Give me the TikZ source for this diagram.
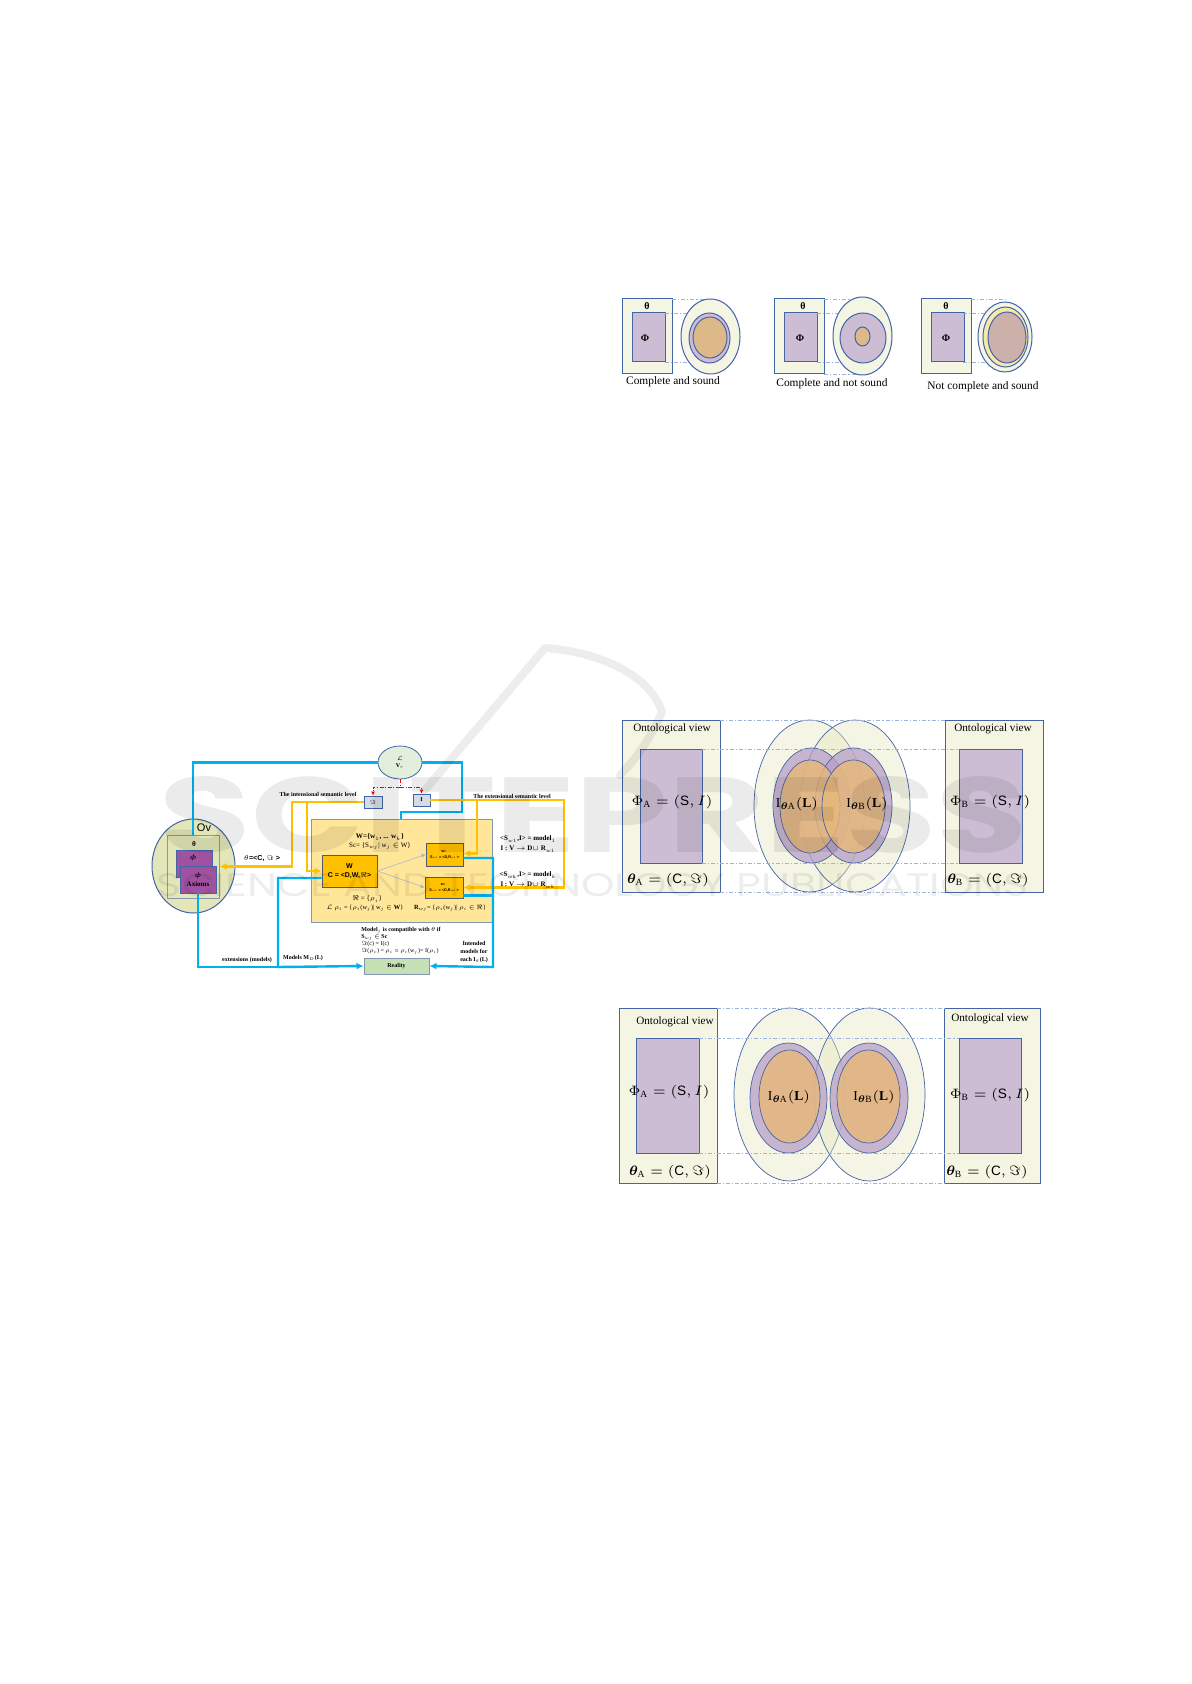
\RequirePackage{fix-cm}
\documentclass[tikz,border=0pt]{standalone}
\usepackage{amsmath,amssymb,bm}
\usepackage{graphicx}
\usepackage{fontspec}
\setmainfont{Liberation Serif}
\setsansfont{Liberation Sans}
\newfontfamily\markfont{Poppins}
\usetikzlibrary{positioning,arrows.meta,calc,shapes.geometric}

\definecolor{cream}{HTML}{F5F5E4}
\definecolor{creamfill}{HTML}{E8E8C0}
\definecolor{lilac}{HTML}{CDBDD4}
\definecolor{lilacdeep}{HTML}{B8A0C8}
\definecolor{ochre}{HTML}{DDB98A}
\definecolor{ochredeep}{HTML}{E8B878}
\definecolor{edgeblue}{HTML}{4464A8}
\definecolor{dashblue}{HTML}{9BB3DE}
\definecolor{cyanline}{HTML}{00B0F0}
\definecolor{amber}{HTML}{FFC000}
\definecolor{paleamber}{HTML}{FFE699}
\definecolor{plumbox}{HTML}{A052A0}
\definecolor{olivefill}{HTML}{E3E6B8}
\definecolor{mintfill}{HTML}{E2EFDA}
\definecolor{steelfill}{HTML}{D6DCE5}
\definecolor{sagefill}{HTML}{C5E0B4}
\definecolor{slate}{HTML}{8497B0}
\definecolor{strawfill}{HTML}{F7E8A8}
\definecolor{rosefill}{HTML}{CCB0AA}

\begin{document}
\begin{tikzpicture}[x=0.5pt,y=-0.5pt,>=Latex,
  view/.style={draw=edgeblue,fill=cream,line width=0.5pt},
  phibox/.style={draw=edgeblue,fill=lilac,line width=0.5pt},
  guide/.style={draw=dashblue,line width=0.35pt,dash pattern=on 2pt off 1pt on 0.6pt off 1pt},
  outer/.style={draw=edgeblue,fill=creamfill,fill opacity=0.4,line width=0.35pt},
  ring/.style={draw=edgeblue,fill=lilacdeep,fill opacity=0.75,line width=0.35pt},
  core/.style={draw=edgeblue,fill=ochredeep,fill opacity=0.8,line width=0.35pt},
  wire/.style={draw=cyanline,line width=1.2pt},
  gold/.style={draw=amber,line width=1.2pt},
  tip/.style={-{Latex[length=3.5pt,width=3.5pt]}},
  smalltxt/.style={font=\fontsize{3}{3.4}\selectfont\bfseries,inner sep=0pt,align=center},
  midtxt/.style={font=\fontsize{3.5}{4.4}\selectfont\bfseries,inner sep=0pt,align=center},
  viewtxt/.style={font=\fontsize{5.6}{6}\selectfont,inner sep=0pt},
  mathtxt/.style={font=\fontsize{6.8}{7}\selectfont,inner sep=0pt},
  caption/.style={font=\fontsize{5.7}{6}\selectfont,inner sep=0pt},
  box/.style={draw=edgeblue,line width=0.4pt,inner sep=0pt}]
\useasboundingbox (0,0) rectangle (1191,1684);
\fill[white] (0,0) rectangle (1191,1684);

% three small cases
\foreach \dx in {0,152,299}{
  \draw[view] (622+\dx,299) rectangle (672+\dx,374);
  \draw[phibox] (632+\dx,313) rectangle (665+\dx,362);
}
\draw[guide] (672,299) -- (710,299) (665,313) -- (710,313) (665,362) -- (710,362);
\draw[guide] (824,299) -- (862,299) (817,313) -- (862,313) (817,362) -- (862,362) (824,374) -- (862,374);
\draw[guide] (971,299) -- (1005,299) (963,313) -- (1005,313) (963,362) -- (1005,362);
\draw[view] (710.5,336.5) ellipse [x radius=29.5,y radius=37.5];
\draw[phibox] (709.5,338) ellipse [x radius=20.5,y radius=25];
\draw[draw=edgeblue,fill=ochre,line width=0.5pt] (710,337.5) ellipse [x radius=17,y radius=20.5];
\draw[view] (862.5,336) ellipse [x radius=29.5,y radius=39];
\draw[phibox] (863,338) ellipse [x radius=23,y radius=25];
\draw[draw=edgeblue,fill=ochre,line width=0.5pt] (862.5,336.5) ellipse [x radius=7.5,y radius=9.5];
\draw[view] (1005,337) ellipse [x radius=27,y radius=35];
\draw[draw=edgeblue,fill=strawfill,line width=0.5pt] (1005.5,337) ellipse [x radius=22.5,y radius=30];
\draw[draw=edgeblue,fill=rosefill,line width=0.5pt] (1007,337.5) ellipse [x radius=19,y radius=25.5];
\foreach \tx/\px in {647/645,803/800,946/946}{
  \node[font=\fontsize{5}{5}\selectfont\bfseries,inner sep=0pt] at (\tx,306) {θ};
  \node[font=\fontsize{5}{5}\selectfont\bfseries,inner sep=0pt] at (\px,338) {Φ};
}
\node[caption] (cs) at (673,382) {Complete and sound};
\node[caption] (cns) at (832,384) {Complete and not sound};
\node[caption] (ncs) at (983,387) {Not complete and sound};

% semantic levels
\node (lang) [ellipse,draw=edgeblue,fill=mintfill,line width=0.4pt,minimum width=22pt,minimum height=16.5pt,inner sep=0pt,smalltxt] at (400,762.5) {$\mathcal{L}$\\V$_r$};
\node (ov) [ellipse,draw=edgeblue,fill=olivefill,line width=0.5pt,minimum width=41.5pt,minimum height=47pt] at (193.5,866) {};
\node (theta) [draw=slate,fill=olivefill,line width=0.5pt,minimum width=26pt,minimum height=31.5pt,inner sep=0pt] at (193,866.5) {};
\node[font=\sffamily\fontsize{5.5}{5.5}\selectfont,inner sep=0pt] at (204,828) {Ov};
\node[smalltxt,font=\fontsize{3.6}{4}\selectfont\bfseries] at (194,844) {θ};
\node (phi1) [box,fill=plumbox,minimum width=18pt,minimum height=13.5pt] at (194,863.5) {};
\node[smalltxt,font=\fontsize{3.6}{4}\selectfont\bfseries] at (193,857.5) {$\bm\phi$};
\node (phi2) [box,fill=plumbox,minimum width=18pt,minimum height=13.5pt,smalltxt,font=\fontsize{3.5}{4.5}\selectfont\bfseries] at (198,879.5) {$\bm\phi$\\Axioms};
\node (bigbox) [draw=slate,fill=paleamber,line width=0.5pt,minimum width=90.5pt,minimum height=51.5pt] at (401.5,870.5) {};
\node (wbox) [draw=slate!60!black,fill=amber,line width=0.5pt,minimum width=27.5pt,minimum height=16pt,inner sep=0pt,align=center,font=\sffamily\bfseries\fontsize{3.5}{4.4}\selectfont] at (349.5,871) {W\\C = <D,W,$\Re$>};
\node (w1box) [draw=slate!60!black,fill=amber,line width=0.4pt,minimum width=18.5pt,minimum height=11.5pt,inner sep=0pt,align=center,font=\sffamily\bfseries\fontsize{1.9}{3}\selectfont] at (444.5,854.5) {w$_1$\\S$_{w1}$ = <D,R$_{w1}$>};
\node (wkbox) [draw=slate!60!black,fill=amber,line width=0.4pt,minimum width=19pt,minimum height=10.5pt,inner sep=0pt,align=center,font=\sffamily\bfseries\fontsize{1.9}{3}\selectfont] at (444,887.5) {w$_k$\\S$_{wk}$ = <D,R$_{wk}$>};
\node (box3) [box,fill=steelfill,minimum width=9pt,minimum height=6pt,smalltxt] at (373,802) {$\Im$};
\node (boxI) [box,fill=steelfill,minimum width=8.5pt,minimum height=6pt,smalltxt] at (421.5,800) {I};
\node (reality) [draw=slate,fill=sagefill,line width=0.5pt,minimum width=32.5pt,minimum height=8pt,inner sep=0pt,smalltxt] at (396.5,966) {Reality};

\draw[wire] (theta.north) |- (lang.west);
\coordinate (jog) at (401,812);
\draw[wire] (lang.east) -| (462,812) -- (jog) -- (jog |- bigbox.north);
\coordinate (split) at (400,787);
\draw[red,line width=0.4pt,dash pattern=on 2pt off 0.8pt on 0.5pt off 0.8pt] (lang.south) -- (split);
\draw[red,line width=0.4pt,dash pattern=on 2pt off 0.8pt on 0.5pt off 0.8pt,-{Latex[length=2pt,width=2pt]}] (split) -| (box3.north);
\draw[red,line width=0.4pt,dash pattern=on 2pt off 0.8pt on 0.5pt off 0.8pt,-{Latex[length=2pt,width=2pt]}] (split) -| (boxI.north);
\draw[gold,tip] (box3.west) -| (292,866.5) -- (theta.east);
\draw[gold,tip] (307,802) |- (wbox.west);
\draw[gold,tip] (boxI.east) -| (564,887.5) -- (wkbox.east);
\draw[gold,tip] (477,800) |- ($(w1box.east)+(0,-1)$);
\draw[wire,tip] ($(wbox.west)+(0,7)$) -| (278,967) -- (reality.west);
\draw[wire] (phi2.south) |- (278,967);
\draw[wire,tip] ($(w1box.east)+(0,3.5)$) -| (493,967) -- (reality.east);
\draw[wire] ($(wkbox.east)+(0,8)$) -- (493,895.5);
\draw[slate!70,line width=0.3pt,-{Latex[length=2pt,width=2pt]}] (wbox.east) -- (w1box.west);
\draw[slate!70,line width=0.3pt,-{Latex[length=2pt,width=2pt]}] (wbox.east) -- (wkbox.west);

\node[smalltxt] at (318,794) {The intensional semantic level};
\node[smalltxt] at (512,796) {The extensional semantic level};
\node[font=\sffamily\bfseries\fontsize{3.6}{4}\selectfont,inner sep=0pt] at (262,859) {$\theta$=<C, $\Im$ >};
\node[midtxt,font=\fontsize{3.6}{4.4}\selectfont\bfseries] at (380,837) {W=\{w$_1$, ... w$_k$\}};
\node[midtxt,font=\fontsize{3.5}{4.4}\selectfont] at (380,846) {Sc= \{S$_{wj}$| w$_j$ $\in$ W\}};
\node[midtxt,font=\fontsize{3.5}{4.4}\selectfont] at (367,899) {$\Re$ = \{$\rho_i$\}};
\node[midtxt,font=\fontsize{3.2}{4.4}\selectfont] at (365,908) {$\mathcal{L}$ $\rho_i$ = \{$\rho_i$(w$_j$)| w$_j$ $\in$ \textbf{W}\}};
\node[midtxt,font=\fontsize{3.2}{4.4}\selectfont] at (450,908) {\textbf{R$_{wj}$}= \{$\rho_i$(w$_j$)| $\rho_i$ $\in$ $\Re$\}};
\node[midtxt,font=\fontsize{3.5}{5}\selectfont\bfseries] at (528,844) {<S$_{w1}$,I> = model$_1$\\I : V $\rightarrow$ D$\cup$ R$_{w1}$};
\node[midtxt,font=\fontsize{3.5}{5}\selectfont\bfseries] at (528,880) {<S$_{wk}$,I> = model$_k$\\I : V $\rightarrow$ D$\cup$ R$_{wk}$};
\node[smalltxt,align=left,anchor=north west] at (361,927) {Model$_j$ is compatible with $\theta$ if\\S$_{wj}$ $\in$ Sc\\{\mdseries$\Im$(c) = I(c)}\\{\mdseries$\Im$($\rho_i$) = $\rho_i$ $\circ$ $\rho_i$(w$_j$)= I($\rho_i$)}};
\node[smalltxt,font=\fontsize{3}{4}\selectfont\bfseries] at (474,952) {Intended\\models for\\each I$_\theta$(L)};
\node[smalltxt] at (303,958) {Models M$_D$(L)};
\node[smalltxt] at (247,960) {extensions (models)};

% overlapping views
\draw[view] (622,720) rectangle (720,892);
\draw[phibox] (640,749) rectangle (702,863);
\draw[view] (945,720) rectangle (1043,892);
\draw[phibox] (959,749) rectangle (1022,863);
\draw[outer] (809.5,806) ellipse [x radius=55.5,y radius=86];
\draw[outer] (855,806) ellipse [x radius=55,y radius=86];
\draw[ring] (811.5,805.5) ellipse [x radius=38.5,y radius=57.5];
\draw[ring] (853.5,805.5) ellipse [x radius=38.5,y radius=57.5];
\draw[core] (810,806.5) ellipse [x radius=30,y radius=46.5];
\draw[core] (853.5,806.5) ellipse [x radius=31.5,y radius=46.5];
\draw[guide] (720,720) -- (945,720) (702,749) -- (959,749) (702,863) -- (959,863) (720,892) -- (945,892);
\node[viewtxt] at (672,729) {Ontological view};
\node[viewtxt] at (993,729) {Ontological view};
\node[mathtxt] at (672,802) {$\Phi_{\mathrm{A}} = (\mathsf{S}, I)$};
\node[mathtxt] at (990,802) {$\Phi_{\mathrm{B}} = (\mathsf{S}, I)$};
\node[mathtxt] at (668,880) {$\bm\theta_{\mathrm{A}} = (\mathsf{C}, \Im)$};
\node[mathtxt] at (988,880) {$\bm\theta_{\mathrm{B}} = (\mathsf{C}, \Im)$};
\node[mathtxt] at (797,804) {$\mathrm{I}_{\bm\theta\mathrm{A}}(\mathbf{L})$};
\node[mathtxt] at (867,804) {$\mathrm{I}_{\bm\theta\mathrm{B}}(\mathbf{L})$};

% separate views
\draw[view] (619,1008) rectangle (717,1183);
\draw[phibox] (636,1038) rectangle (699,1153);
\draw[view] (944,1008) rectangle (1040,1183);
\draw[phibox] (959,1038) rectangle (1021,1153);
\draw[outer] (789.5,1094.5) ellipse [x radius=55.5,y radius=86.5];
\draw[outer] (869.5,1094.5) ellipse [x radius=55.5,y radius=86.5];
\draw[ring] (788.5,1098) ellipse [x radius=38.5,y radius=55];
\draw[ring] (869,1098) ellipse [x radius=39,y radius=55];
\draw[core] (789.5,1096.5) ellipse [x radius=30.5,y radius=46.5];
\draw[core] (868.5,1096.5) ellipse [x radius=31.5,y radius=46.5];
\draw[guide] (717,1008) -- (944,1008) (699,1038) -- (959,1038) (699,1153) -- (959,1153) (717,1183) -- (944,1183);
\node[viewtxt] at (675,1022) {Ontological view};
\node[viewtxt] at (990,1019) {Ontological view};
\node[mathtxt] at (669,1092) {$\Phi_{\mathrm{A}} = (\mathsf{S}, I)$};
\node[mathtxt] at (990,1095) {$\Phi_{\mathrm{B}} = (\mathsf{S}, I)$};
\node[mathtxt] at (670,1172) {$\bm\theta_{\mathrm{A}} = (\mathsf{C}, \Im)$};
\node[mathtxt] at (987,1172) {$\bm\theta_{\mathrm{B}} = (\mathsf{C}, \Im)$};
\node[mathtxt] at (789,1097) {$\mathrm{I}_{\bm\theta\mathrm{A}}(\mathbf{L})$};
\node[mathtxt] at (874,1097) {$\mathrm{I}_{\bm\theta\mathrm{B}}(\mathbf{L})$};

% watermark
\draw[black,opacity=0.07,line width=4pt,line cap=round,line join=round] (425,790) -- (545,648) .. controls (600,652) and (650,675) .. (662,712) .. controls (650,740) and (635,760) .. (620,775);
\node[opacity=0.08,text opacity=0.08,inner sep=0pt] (brand) at (594,815) {\resizebox{434pt}{38pt}{\markfont\bfseries SCITEPRESS}};
\node[opacity=0.07,text opacity=0.07,inner sep=0pt] (tagline) at (593,885.5) {\resizebox{436pt}{11.5pt}{\markfont SCIENCE AND TECHNOLOGY PUBLICATIONS}};
\end{tikzpicture}
\end{document}
